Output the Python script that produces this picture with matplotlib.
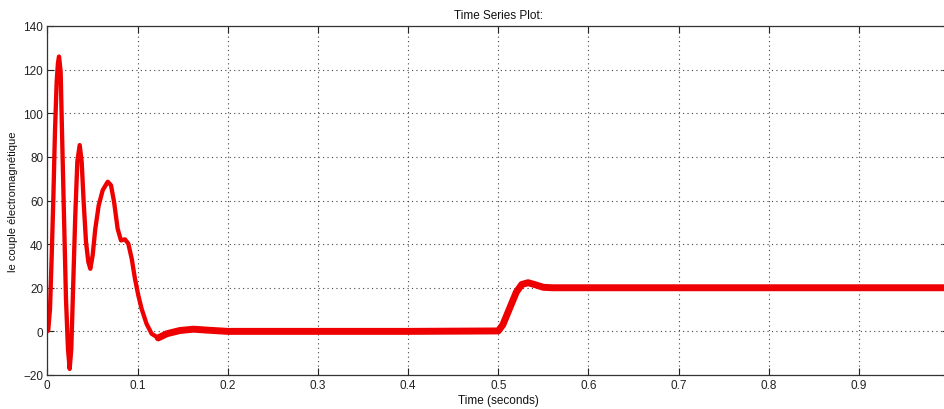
import matplotlib
matplotlib.use("Agg")
import matplotlib.pyplot as plt
import numpy as np

plt.rcParams['font.family'] = ['Liberation Sans', 'DejaVu Sans']

# Time (s) and electromagnetic torque values
time_s = [0.000, 0.001, 0.003, 0.0049, 0.0067, 0.0085, 0.0104, 0.0118, 0.013, 0.0148,
          0.0163, 0.0185, 0.0207, 0.0229, 0.0248, 0.0266, 0.0288, 0.031, 0.0333, 0.0359,
          0.0381, 0.0403, 0.0429, 0.0455, 0.0477, 0.0503, 0.0532, 0.057, 0.0614, 0.067,
          0.0706, 0.074, 0.078, 0.0817, 0.0861, 0.0898, 0.0936, 0.0972, 0.1009, 0.1046,
          0.110, 0.1157, 0.123, 0.1324, 0.147, 0.162, 0.180, 0.200, 0.300, 0.400,
          0.500, 0.505, 0.513, 0.520, 0.526, 0.533, 0.540, 0.550, 0.560, 0.600,
          0.700, 0.800, 0.900, 1.000]
torque = [0.0, 0.4, 10.3, 34.9, 61.0, 91.6, 114.6, 123.0, 126.0, 119.0,
          91.6, 53.0, 15.0, -8.0, -17.2, -8.0, 22.6, 53.0, 77.8, 85.4,
          77.8, 59.4, 41.0, 31.8, 28.7, 34.9, 47.0, 57.8, 64.7, 68.6,
          67.0, 59.4, 47.0, 41.7, 42.2, 40.2, 33.3, 24.1, 16.5, 10.3,
          3.5, -1.1, -3.0, -1.1, 0.4, 1.0, 0.5, 0.0, 0.0, 0.0,
          0.2, 3.0, 11.0, 18.0, 21.5, 22.3, 21.5, 20.2, 20.0, 20.0,
          20.0, 20.0, 20.0, 20.0]

x_ticks = [0, 0.1, 0.2, 0.3, 0.4, 0.5, 0.6, 0.7, 0.8, 0.9]
x_tick_labels = ['0', '0.1', '0.2', '0.3', '0.4', '0.5', '0.6', '0.7', '0.8', '0.9']
y_ticks = [-20, 0, 20, 40, 60, 80, 100, 120, 140]

fig = plt.figure(figsize=(9.45, 4.10), dpi=100)
ax = fig.add_axes([47.3 / 945, 34 / 410, 902 / 945, 349 / 410])

t = np.array(time_s)
v = np.array(torque)
ax.plot(t, v, color='#ee0000', linewidth=3.1, solid_joinstyle='round',
        solid_capstyle='round')
late = t >= 0.123
ax.plot(t[late], v[late], color='#ee0000', linewidth=5.0, solid_joinstyle='round',
        solid_capstyle='round')

ax.set_xlim(0, 1)
ax.set_ylim(-20, 140)
ax.set_xticks(x_ticks)
ax.set_xticklabels(x_tick_labels)
ax.set_yticks(y_ticks)
ax.tick_params(direction='in', length=5, width=0.8, colors='#222222',
               labelsize=8.5, top=True, right=True, pad=3)
ax.grid(True, linestyle=(0, (1, 3)), color='#444444', linewidth=0.8)
for s in ax.spines.values():
    s.set_color('#333333')
    s.set_linewidth(0.9)

ax.set_title('Time Series Plot:', fontsize=8.5, pad=6, color='#111111')
ax.set_xlabel('Time (seconds)', fontsize=8.5, labelpad=2, color='#111111')
ax.set_ylabel('le couple électromagnétique', fontsize=8, labelpad=4, color='#111111')

fig.savefig('out.png', dpi=100)
